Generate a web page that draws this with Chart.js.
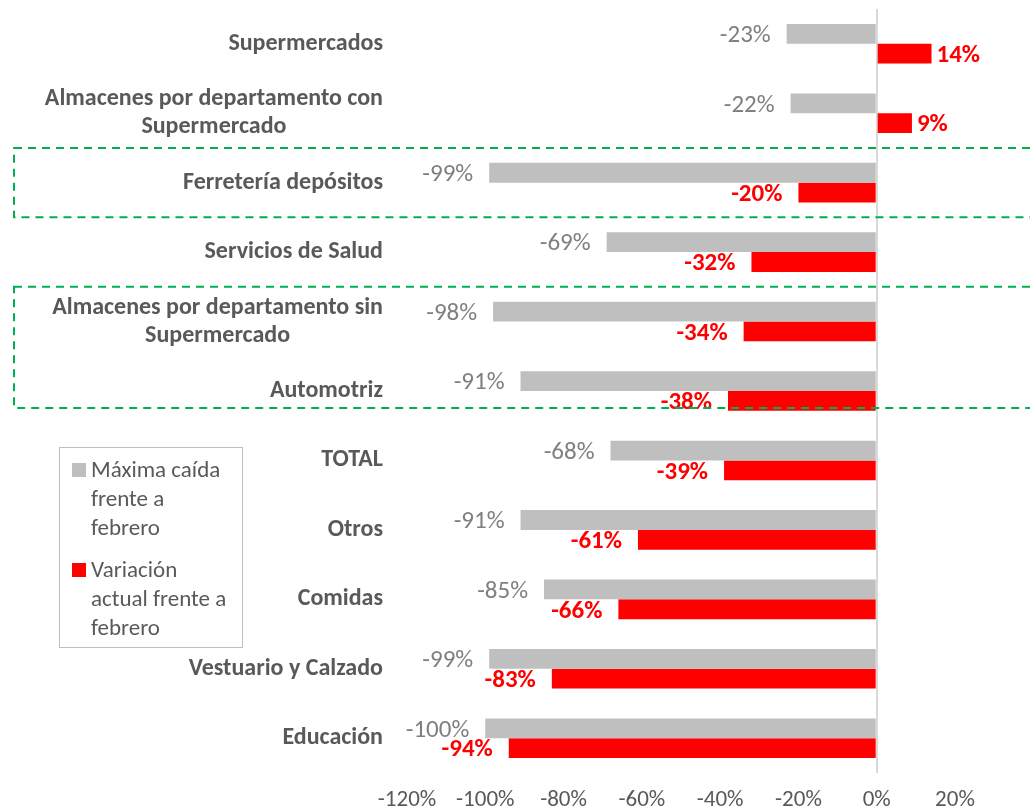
<!DOCTYPE html>
<html>
<head>
<meta charset="utf-8">
<script src="https://cdn.jsdelivr.net/npm/chart.js@4/dist/chart.umd.min.js"></script>
<style>
    body { margin: 0; background: #fff; }
    #wrap { position: relative; width: 1030px; height: 812px; }
    .legend {
        position: absolute; left: 59px; top: 447px; width: 184px; height: 201px;
        border: 1.5px solid #bfbfbf; font-family: Carlito, Lato, sans-serif;
        font-size: 23px; line-height: 29px; color: #595959; box-sizing: border-box;
        padding: 7px 0 0 12px;
    }
    .legend-item { position: relative; padding-left: 19px; margin-bottom: 13px; white-space: nowrap; }
    .legend-item i { position: absolute; left: 0; top: 8px; width: 14px; height: 14px; }
</style>
</head>
<body>
<div id="wrap">
    <canvas id="chart"></canvas>
    <div class="legend" id="legend"></div>
</div>
<script>
/* ---- data ---- */
const categories = [
    ['Supermercados'],
    ['Almacenes por departamento con', 'Supermercado'],
    ['Ferretería depósitos'],
    ['Servicios de Salud'],
    ['Almacenes por departamento sin', 'Supermercado'],
    ['Automotriz'],
    ['TOTAL'],
    ['Otros'],
    ['Comidas'],
    ['Vestuario y Calzado'],
    ['Educación']
];
const maxDrop = [-23, -22, -99, -69, -98, -91, -68, -91, -85, -99, -100];
const currentVar = [14, 9, -20, -32, -34, -38, -39, -61, -66, -83, -94];
const seriesNames = [['Máxima caída', 'frente a', 'febrero'], ['Variación', 'actual frente a', 'febrero']];
const seriesColors = ['#bfbfbf', '#ff0000'];
const xTicks = [-120, -100, -80, -60, -40, -20, 0, 20];
// highlighted groups: [first index, last index]
const highlights = [[2, 2], [4, 5]];

const FONT = 'Carlito, Lato, sans-serif';

// category labels, drawn centred line by line like the original
const categoryLabels = {
    id: 'categoryLabels',
    afterDraw(chart) {
        const ctx = chart.ctx;
        const y = chart.scales.y;
        ctx.save();
        ctx.font = 'bold 24px ' + FONT;
        ctx.fillStyle = '#595959';
        ctx.textAlign = 'center';
        ctx.textBaseline = 'middle';
        categories.forEach((lines, i) => {
            const cy = y.getPixelForValue(i);
            const w = Math.max(...lines.map(l => ctx.measureText(l).width));
            const cx = 383 - w / 2;
            lines.forEach((l, j) => {
                ctx.fillText(l, cx, cy + (j - (lines.length - 1) / 2) * 28);
            });
        });
        ctx.restore();
    }
};

// value labels next to bar ends
const valueLabels = {
    id: 'valueLabels',
    afterDatasetsDraw(chart) {
        const ctx = chart.ctx;
        ctx.save();
        ctx.textBaseline = 'middle';
        chart.data.datasets.forEach((ds, di) => {
            const meta = chart.getDatasetMeta(di);
            ctx.font = (di === 1 ? 'bold ' : '') + '25px ' + FONT;
            ctx.fillStyle = di === 1 ? '#ff0000' : '#7f7f7f';
            meta.data.forEach((bar, i) => {
                const v = ds.data[i];
                if (v >= 0) {
                    ctx.textAlign = 'left';
                    ctx.fillText(v + '%', bar.x + 5, bar.y + 2);
                } else {
                    ctx.textAlign = 'right';
                    ctx.fillText(v + '%', bar.x - 16, bar.y + 2);
                }
            });
        });
        ctx.restore();
    }
};

// dashed green boxes around highlighted categories
const highlightBoxes = {
    id: 'highlightBoxes',
    afterDraw(chart) {
        const ctx = chart.ctx;
        const y = chart.scales.y;
        const half = (y.getPixelForValue(1) - y.getPixelForValue(0)) / 2;
        ctx.save();
        ctx.strokeStyle = '#00b050';
        ctx.lineWidth = 2;
        ctx.setLineDash([8, 6]);
        highlights.forEach(([a, b]) => {
            const top = y.getPixelForValue(a) - half;
            const bottom = a === b ? y.getPixelForValue(b) + half : y.getPixelForValue(b) + 17;
            ctx.strokeRect(14, top, 1030, bottom - top);
        });
        ctx.restore();
    }
};

new Chart(document.getElementById('chart'), {
    type: 'bar',
    data: {
        labels: categories,
        datasets: [
            { label: seriesNames[0].join(' '), data: maxDrop, backgroundColor: seriesColors[0] },
            { label: seriesNames[1].join(' '), data: currentVar, backgroundColor: seriesColors[1] }
        ]
    },
    options: {
        indexAxis: 'y',
        responsive: true,
        maintainAspectRatio: false,
        animation: false,
        categoryPercentage: 0.57,
        barPercentage: 1.0,
        layout: { padding: { left: 407, right: 75, top: 9, bottom: 1 } },
        plugins: {
            legend: { display: false },
            tooltip: { enabled: false }
        },
        scales: {
            y: { display: false },
            x: {
                min: xTicks[0],
                max: xTicks[xTicks.length - 1],
                afterBuildTicks: axis => { axis.ticks = xTicks.map(v => ({ value: v })); },
                afterFit: axis => { axis.height = 38; },
                border: { display: false },
                grid: {
                    drawTicks: false,
                    lineWidth: 2,
                    color: c => (c.tick && c.tick.value === 0) ? '#d9d9d9' : 'rgba(0,0,0,0)'
                },
                ticks: {
                    padding: 13,
                    maxRotation: 0,
                    color: '#595959',
                    font: { family: FONT, size: 23 },
                    callback: v => v + '%'
                }
            }
        }
    },
    plugins: [categoryLabels, valueLabels, highlightBoxes]
});

document.getElementById('legend').innerHTML = seriesNames.map((lines, i) =>
    `<div class="legend-item"><i style="background:${seriesColors[i]}"></i>${lines.join('<br>')}</div>`
).join('');
</script>
</body>
</html>
